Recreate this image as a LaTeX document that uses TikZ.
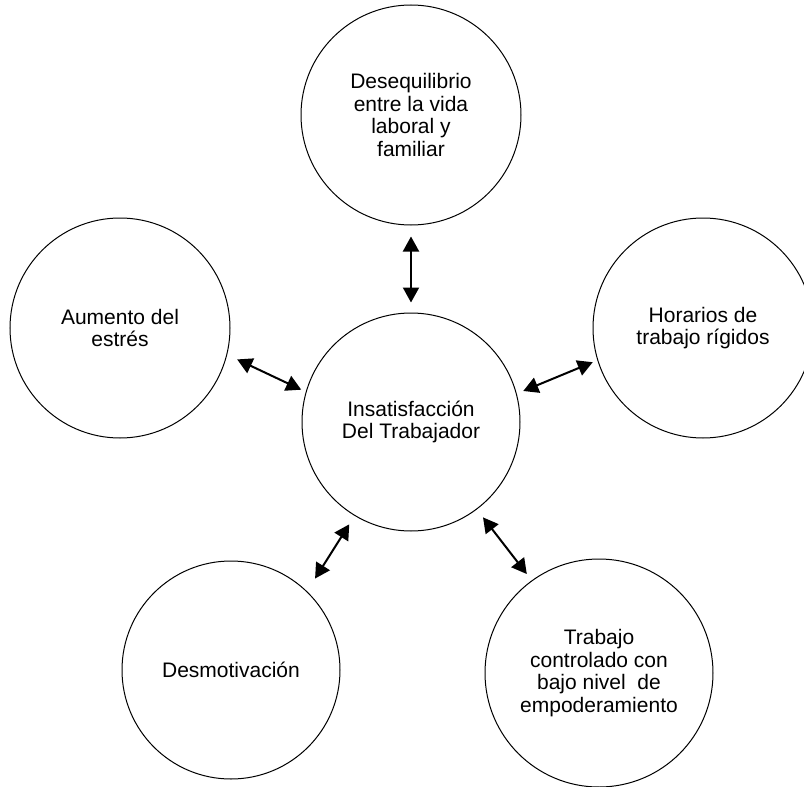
\documentclass[tikz,border=0pt]{standalone}
\usepackage{fontspec}
\setmainfont{Liberation Sans}
\usetikzlibrary{arrows.meta}
\tikzset{
    bubble/.style={draw, circle, line width=1pt, inner sep=0pt, align=center,
        font=\fontsize{21}{22.5}\selectfont},
    link/.style={line width=2pt, {Triangle[width=16pt,length=15pt]}-{Triangle[width=16pt,length=15pt]}}
}
\begin{document}
\begin{tikzpicture}[x=1pt,y=-1pt]
            \useasboundingbox (0,0) rectangle (804,787);
            \node[bubble, minimum size=218pt] (insat) at (411,422) {Insatisfacción\\Del Trabajador};
            \node[bubble, minimum size=220pt] (desequ) at (411,115) {Desequilibrio\\entre la vida\\laboral y\\familiar};
            \node[bubble, minimum size=220pt] (estres) at (120,328) {Aumento del\\estrés};
            \node[bubble, minimum size=220pt] (horarios) at (703,328) {Horarios de\\trabajo rígidos};
            \node[bubble, minimum size=218pt] (desmot) at (231,670) {Desmotivación};
            \node[bubble, minimum size=228pt] (control) at (599,673) {Trabajo\\controlado con\\bajo nivel~ de\\empoderamiento};
            % connectors
            \draw[link, shorten <=11pt, shorten >=10pt] (desequ.south) -- (insat.north);
            \draw[link, shorten <=11pt, shorten >=5pt] (estres.-14) -- (insat.164);
            \draw[link, shorten <=7pt, shorten >=5pt] (insat.15) -- (horarios.-163);
            \draw[link, shorten <=15pt, shorten >=10pt] (desmot.46) -- (insat.-121);
            \draw[link, shorten <=10pt, shorten >=8pt] (insat.-53) -- (control.126);
        \end{tikzpicture}
\end{document}
